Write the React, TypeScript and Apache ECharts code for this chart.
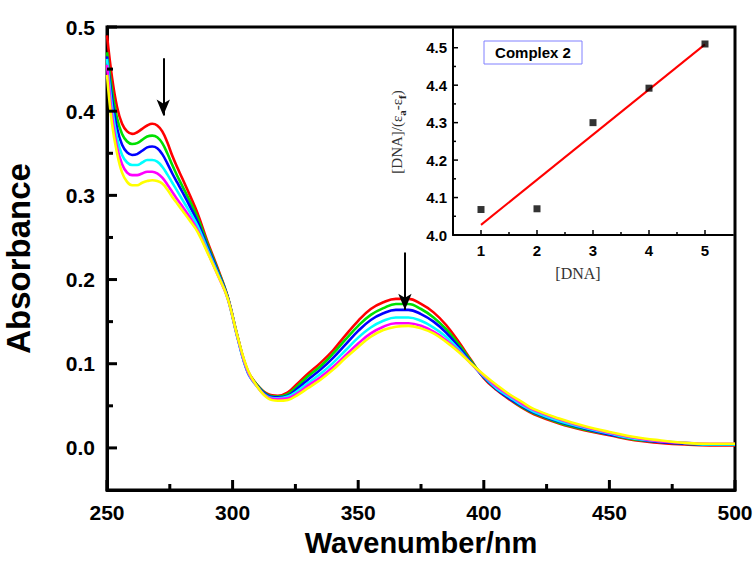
import React, { useEffect, useRef } from "react";
import * as echarts from "echarts";

// ---------- Main spectra data ----------
const wavelengths = [250, 252, 254, 256, 258, 260, 262, 264, 266, 268, 270, 272, 274, 276, 278, 280, 283, 286, 290, 294, 298, 302, 306, 310, 314, 318, 322, 326, 330, 335, 340, 345, 350, 355, 360, 365, 370, 375, 380, 385, 390, 395, 400, 405, 410, 415, 420, 430, 440, 450, 460, 470, 480, 490, 500];

const absRed = [0.490, 0.440, 0.405, 0.385, 0.376, 0.373, 0.375, 0.379, 0.383, 0.385, 0.383, 0.376, 0.363, 0.347, 0.333, 0.320, 0.300, 0.279, 0.245, 0.214, 0.180, 0.132, 0.092, 0.074, 0.064, 0.062, 0.066, 0.077, 0.088, 0.101, 0.116, 0.134, 0.151, 0.165, 0.173, 0.177, 0.177, 0.171, 0.161, 0.146, 0.126, 0.104, 0.083, 0.069, 0.058, 0.048, 0.040, 0.029, 0.021, 0.015, 0.009, 0.006, 0.004, 0.003, 0.003];
const absGreen = [0.470, 0.425, 0.392, 0.373, 0.364, 0.361, 0.362, 0.366, 0.370, 0.371, 0.369, 0.362, 0.350, 0.336, 0.323, 0.311, 0.293, 0.274, 0.242, 0.212, 0.180, 0.132, 0.091, 0.074, 0.063, 0.061, 0.064, 0.074, 0.085, 0.097, 0.112, 0.129, 0.145, 0.158, 0.166, 0.171, 0.171, 0.165, 0.155, 0.141, 0.123, 0.103, 0.084, 0.070, 0.059, 0.049, 0.041, 0.030, 0.022, 0.016, 0.010, 0.007, 0.005, 0.004, 0.004];
const absBlue = [0.465, 0.415, 0.380, 0.360, 0.351, 0.348, 0.349, 0.353, 0.357, 0.358, 0.356, 0.349, 0.338, 0.326, 0.315, 0.304, 0.287, 0.269, 0.239, 0.210, 0.179, 0.131, 0.090, 0.073, 0.062, 0.060, 0.062, 0.071, 0.081, 0.093, 0.107, 0.123, 0.139, 0.152, 0.160, 0.164, 0.164, 0.159, 0.150, 0.137, 0.120, 0.101, 0.084, 0.070, 0.059, 0.050, 0.042, 0.031, 0.023, 0.016, 0.011, 0.007, 0.005, 0.004, 0.004];
const absCyan = [0.462, 0.405, 0.368, 0.348, 0.339, 0.336, 0.336, 0.339, 0.342, 0.342, 0.340, 0.334, 0.325, 0.315, 0.305, 0.295, 0.280, 0.264, 0.236, 0.208, 0.178, 0.130, 0.090, 0.072, 0.061, 0.059, 0.061, 0.068, 0.077, 0.088, 0.101, 0.116, 0.131, 0.143, 0.151, 0.155, 0.155, 0.151, 0.143, 0.132, 0.117, 0.100, 0.085, 0.071, 0.061, 0.051, 0.043, 0.032, 0.024, 0.017, 0.011, 0.008, 0.006, 0.004, 0.004];
const absMagenta = [0.455, 0.395, 0.357, 0.337, 0.327, 0.324, 0.324, 0.326, 0.328, 0.328, 0.326, 0.321, 0.313, 0.304, 0.295, 0.287, 0.274, 0.259, 0.233, 0.206, 0.178, 0.131, 0.091, 0.072, 0.060, 0.058, 0.059, 0.065, 0.074, 0.084, 0.096, 0.110, 0.124, 0.136, 0.144, 0.148, 0.148, 0.145, 0.138, 0.128, 0.115, 0.100, 0.086, 0.073, 0.063, 0.053, 0.045, 0.034, 0.025, 0.018, 0.012, 0.008, 0.006, 0.005, 0.005];
const absYellow = [0.443, 0.385, 0.350, 0.327, 0.316, 0.312, 0.312, 0.315, 0.317, 0.318, 0.317, 0.314, 0.307, 0.298, 0.290, 0.282, 0.270, 0.257, 0.232, 0.206, 0.178, 0.132, 0.093, 0.072, 0.059, 0.056, 0.057, 0.063, 0.071, 0.081, 0.093, 0.107, 0.120, 0.132, 0.140, 0.144, 0.145, 0.142, 0.136, 0.126, 0.114, 0.100, 0.087, 0.075, 0.064, 0.055, 0.046, 0.035, 0.026, 0.019, 0.013, 0.009, 0.006, 0.005, 0.005];

const spectra = [absRed, absGreen, absBlue, absCyan, absMagenta, absYellow];
const spectraColors = ["#ff0000", "#00e000", "#0000ff", "#00ffff", "#ff00ff", "#ffff00"];

// Arrows (data coordinates)
const arrowX = [272.4, 368.6];
const arrowFrom = [0.463, 0.232];
const arrowTo = [0.395, 0.164];

// Main axes
const mainXMin = 250;
const mainXMax = 500;
const mainYMin = -0.05;
const mainYMax = 0.5;
const mainXMajor = [250, 300, 350, 400, 450, 500];
const mainXMinor = [275, 325, 375, 425, 475];
const mainYLabels = [0, 0.1, 0.2, 0.3, 0.4, 0.5];
const mainYMinor = [0.05, 0.15, 0.25, 0.35, 0.45];

// ---------- Inset data ----------
const dnaConc = [1, 2, 3, 4, 5];
const dnaRatio = [4.068, 4.07, 4.30, 4.392, 4.51];
const fitX = [1, 5];
const fitY = [4.027, 4.509];
const insetXMin = 0.5;
const insetXMax = 5.5;
const insetYMin = 4.0;
const insetYMax = 4.55;
const insetXLabels = [1, 2, 3, 4, 5];
const insetXMinor = [1.5, 2.5, 3.5, 4.5];
const insetYLabels = [4.0, 4.1, 4.2, 4.3, 4.4, 4.5];
const insetYMinor = [4.05, 4.15, 4.25, 4.35, 4.45];

const SANS = "'Liberation Sans', Arial, sans-serif";
const SERIF = "'Liberation Serif', 'Times New Roman', serif";

// Tick marks drawn as a custom series so they go through the axes' scales
function tickSeries(xIdx: number, yIdx: number, points: number[][], dir: "up" | "right", len: number, width: number) {
  return {
    type: "custom",
    xAxisIndex: xIdx,
    yAxisIndex: yIdx,
    silent: true,
    clip: false,
    z: 30,
    data: points,
    encode: { x: 0, y: 1 },
    renderItem: (_params: any, api: any) => {
      const p = api.coord([api.value(0), api.value(1)]);
      const x2 = dir === "right" ? p[0] + len : p[0];
      const y2 = dir === "up" ? p[1] - len : p[1];
      return {
        type: "line",
        shape: { x1: p[0], y1: p[1], x2, y2 },
        style: { stroke: "#000", lineWidth: width },
      };
    },
  };
}

export default function App() {
  const ref = useRef<HTMLDivElement>(null);

  useEffect(() => {
    if (!ref.current) return;
    const chart = echarts.init(ref.current, null, { renderer: "svg" });

    const mainLabelStyle = { color: "#000", fontFamily: SANS, fontWeight: "bold" as const, fontSize: 21 };
    const insetLabelStyle = { color: "#000", fontFamily: SANS, fontWeight: "bold" as const, fontSize: 15 };

    const option: any = {
      animation: false,
      backgroundColor: "#fff",
      grid: [
        { left: 107, right: 20, top: 27, bottom: 71, show: true, borderColor: "#000", borderWidth: 3, backgroundColor: "transparent", containLabel: false, outerBoundsMode: "none" },
        { left: 453, right: 22, top: 29, bottom: 326, show: false, containLabel: false, outerBoundsMode: "none" },
      ],
      xAxis: [
        {
          type: "value", gridIndex: 0, min: mainXMin, max: mainXMax, interval: 50, position: "bottom",
          axisLine: { show: true, onZero: false, lineStyle: { color: "#000", width: 3 } },
          axisTick: { show: false },
          splitLine: { show: false },
          axisLabel: { ...mainLabelStyle, margin: 12 },
          name: "Wavenumber/nm", nameLocation: "middle", nameGap: 38,
          nameTextStyle: { color: "#000", fontFamily: SANS, fontWeight: "bold", fontSize: 29 },
        },
        {
          type: "value", gridIndex: 1, min: insetXMin, max: insetXMax, position: "bottom",
          axisLine: { show: true, onZero: false, lineStyle: { color: "#000", width: 2 } },
          axisTick: { show: false },
          splitLine: { show: false },
          axisLabel: { ...insetLabelStyle, margin: 8, customValues: insetXLabels, formatter: (v: number) => String(v) },
          name: "[DNA]", nameLocation: "middle", nameGap: 30,
          nameTextStyle: { color: "#333", fontFamily: SERIF, fontSize: 16, padding: [0, 30, 0, 0] },
        },
      ],
      yAxis: [
        {
          type: "value", gridIndex: 0, min: mainYMin, max: mainYMax, position: "left",
          axisLine: { show: true, onZero: false, lineStyle: { color: "#000", width: 3 } },
          axisTick: { show: false },
          splitLine: { show: false },
          axisLabel: { ...mainLabelStyle, margin: 12, customValues: mainYLabels, formatter: (v: number) => v.toFixed(1) },
          name: "Absorbance", nameLocation: "middle", nameGap: 72,
          nameTextStyle: { color: "#000", fontFamily: SANS, fontWeight: "bold", fontSize: 33 },
        },
        {
          type: "value", gridIndex: 1, min: insetYMin, max: insetYMax, position: "left",
          axisLine: { show: true, onZero: false, lineStyle: { color: "#000", width: 2 } },
          axisTick: { show: false },
          splitLine: { show: false },
          axisLabel: { ...insetLabelStyle, margin: 6, customValues: insetYLabels, formatter: (v: number) => v.toFixed(1) },
          name: "{n|[DNA]/(ε}{s|a}{n|-ε}{s|f}{n|)}", nameLocation: "middle", nameGap: 46,
          nameTextStyle: {
            color: "#333", fontFamily: SERIF, fontSize: 15,
            rich: {
              n: { fontFamily: SERIF, fontSize: 15, color: "#333", lineHeight: 20 },
              s: { fontFamily: SERIF, fontSize: 11, color: "#222", fontWeight: "bold", lineHeight: 20, verticalAlign: "bottom", padding: [6, 0, 0, 0] },
            },
          },
        },
      ],
      series: [
        ...spectra.map((vals, i) => ({
          type: "line",
          xAxisIndex: 0,
          yAxisIndex: 0,
          data: wavelengths.map((w, j) => [w, vals[j]]),
          smooth: 0.4,
          symbol: "none",
          lineStyle: { color: spectraColors[i], width: 2.6 },
          itemStyle: { color: spectraColors[i] },
          z: 2 + i,
          ...(i === spectra.length - 1
            ? {
                markLine: {
                  silent: true,
                  symbol: ["none", "arrow"],
                  symbolSize: [10, 16],
                  label: { show: false },
                  lineStyle: { color: "#000", width: 2, type: "solid" },
                  data: arrowX.map((x, k) => [{ coord: [x, arrowFrom[k]] }, { coord: [x, arrowTo[k]] }]),
                },
              }
            : {}),
        })),
        tickSeries(0, 0, mainXMajor.map((v) => [v, mainYMin]), "up", 10, 3),
        tickSeries(0, 0, mainXMinor.map((v) => [v, mainYMin]), "up", 6, 3),
        tickSeries(0, 0, mainYLabels.map((v) => [mainXMin, v]), "right", 10, 3),
        tickSeries(0, 0, mainYMinor.map((v) => [mainXMin, v]), "right", 6, 3),
        tickSeries(1, 1, insetXLabels.map((v) => [v, insetYMin]), "up", 5, 1.5),
        tickSeries(1, 1, insetXMinor.map((v) => [v, insetYMin]), "up", 3, 1.5),
        tickSeries(1, 1, insetYLabels.map((v) => [insetXMin, v]), "right", 5, 1.5),
        tickSeries(1, 1, insetYMinor.map((v) => [insetXMin, v]), "right", 3, 1.5),
        {
          type: "line",
          xAxisIndex: 1,
          yAxisIndex: 1,
          data: fitX.map((x, i) => [x, fitY[i]]),
          symbol: "none",
          lineStyle: { color: "#ff0000", width: 2 },
          z: 10,
        },
        {
          type: "scatter",
          xAxisIndex: 1,
          yAxisIndex: 1,
          data: dnaConc.map((x, i) => [x, dnaRatio[i]]),
          symbol: "rect",
          symbolSize: 7,
          itemStyle: { color: "#000" },
          z: 11,
        },
      ],
      graphic: [
        {
          type: "rect",
          shape: { x: 484, y: 41, width: 98, height: 23 },
          style: { fill: "#fff", stroke: "#8080ff", lineWidth: 1 },
          z: 20,
        },
        {
          type: "text",
          x: 533,
          y: 52.5,
          style: { text: "Complex 2", fill: "#000", font: `bold 15px ${SANS}`, align: "center", verticalAlign: "middle" },
          z: 21,
        },
      ],
    };

    chart.setOption(option);
    return () => chart.dispose();
  }, []);

  return <div ref={ref} style={{ position: "absolute", left: 0, top: 0, width: 755, height: 561 }} />;
}
